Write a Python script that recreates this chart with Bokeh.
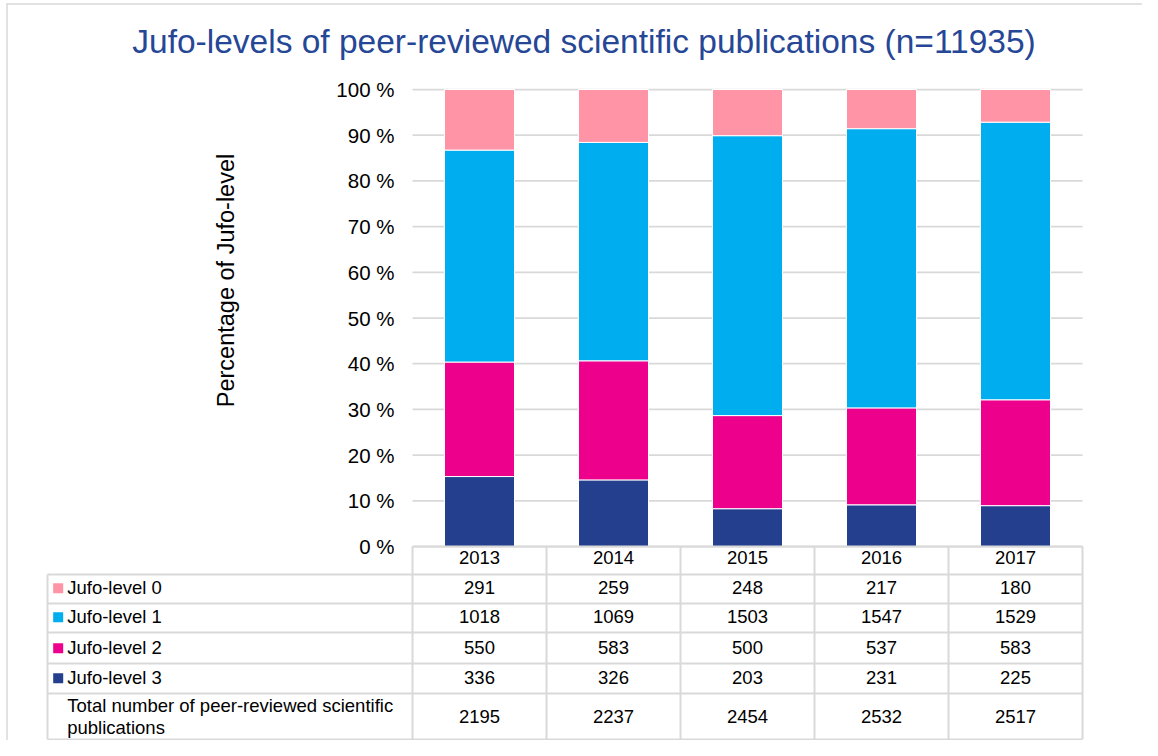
import math
from bokeh.plotting import figure
from bokeh.models import ColumnDataSource, Range1d, LinearAxis, FixedTicker, PrintfTickFormatter
from bokeh.core.properties import value
from bokeh.embed import file_html
from bokeh.resources import INLINE

# ---------------- data ----------------
years = ["2013", "2014", "2015", "2016", "2017"]
level0 = [291, 259, 248, 217, 180]
level1 = [1018, 1069, 1503, 1547, 1529]
level2 = [550, 583, 500, 537, 583]
level3 = [336, 326, 203, 231, 225]
totals = [2195, 2237, 2454, 2532, 2517]
row_labels = ["Jufo-level 0", "Jufo-level 1", "Jufo-level 2", "Jufo-level 3"]
total_label = ["Total number of peer-reviewed scientific", "publications"]
y_ticks = [0, 10, 20, 30, 40, 50, 60, 70, 80, 90, 100]
title_text = "Jufo-levels of peer-reviewed scientific publications (n=11935)"
y_label = "Percentage of Jufo-level"

# ---------------- styles ----------------
C0, C1, C2, C3 = "#FF94A7", "#00AEEF", "#EC008C", "#253F8F"
row_colors = [C0, C1, C2, C3]
TITLE_COLOR = "#264796"
GRID = "#D9D9D9"
TXT = "#000000"
FONT = "Liberation Sans"

# ---------------- layout (canvas px) ----------------
W, H = 1142, 740
PL, PR, PT, PB = 412, 1082, 89, 546
NCAT = len(years)
PX_CAT = (PR - PL) / NCAT
PX_PCT = (PB - PT) / 100.0
BASE_SHIFT = 0.33  # em offset between requested and drawn text baseline


def dx(px):
    return (px - PL) / PX_CAT


def dy(px):
    return (PB - px) / PX_PCT


def tb(px, fs):
    """data y for a text whose baseline should be drawn at canvas px."""
    return dy(px - BASE_SHIFT * fs)


p = figure(width=W, height=H, output_backend="svg", toolbar_location=None,
           x_range=Range1d(dx(0), dx(W)), y_range=Range1d(dy(H), dy(0)),
           x_axis_type=None, y_axis_type=None, min_border=0)
p.outline_line_color = None
p.xgrid.visible = False
p.ygrid.visible = False
p.background_fill_color = "white"
p.border_fill_color = "white"

# outer chart border (top / left)
p.segment(x0=[dx(6), dx(6.5)], y0=[dy(3.5), dy(3)],
          x1=[dx(W), dx(6.5)], y1=[dy(3.5), dy(H)],
          line_color=GRID, line_width=1.5)

# gridlines
p.segment(x0=[0] * len(y_ticks), x1=[NCAT] * len(y_ticks), y0=y_ticks, y1=y_ticks,
          line_color=GRID, line_width=1.75)

# stacked 100 % bars
xs = [i + 0.5 for i in range(NCAT)]
src = ColumnDataSource(dict(
    x=xs,
    l3=[a / t * 100 for a, t in zip(level3, totals)],
    l2=[a / t * 100 for a, t in zip(level2, totals)],
    l1=[a / t * 100 for a, t in zip(level1, totals)],
    l0=[a / t * 100 for a, t in zip(level0, totals)],
))
p.vbar_stack(["l3", "l2", "l1", "l0"], x="x", width=70 / PX_CAT, color=[C3, C2, C1, C0],
             line_color="white", line_width=1, source=src)

# y axis
yax = LinearAxis(fixed_location=0, ticker=FixedTicker(ticks=y_ticks),
                 formatter=PrintfTickFormatter(format="%d %%"))
yax.axis_line_color = None
yax.major_tick_line_color = None
yax.minor_tick_line_color = None
yax.major_tick_out = 0
yax.major_tick_in = 0
yax.major_label_standoff = 18
yax.major_label_text_font = FONT
yax.major_label_text_font_size = "20.5px"
yax.major_label_text_color = TXT
p.add_layout(yax, "left")

# title and axis label
p.text(x=[dx(583.5)], y=[tb(52, 33.5)], text=[title_text], text_align="center",
       text_baseline="alphabetic", text_font=value(FONT), text_font_size=value("33.5px"),
       text_color=TITLE_COLOR)
p.text(x=[dx(233 - BASE_SHIFT * 23.5)], y=[dy(280)], text=[y_label], angle=math.pi / 2,
       text_align="center", text_baseline="alphabetic", text_font=value(FONT),
       text_font_size=value("23.5px"), text_color=TXT)

# ---------------- data table ----------------
row_lines = [574, 603, 632, 663, 693, 739]
TL = 47
FS = 18.5
TFS = value("%.1fpx" % FS)
# horizontal lines
p.segment(x0=[dx(PL)], x1=[dx(PR)], y0=[dy(PB)], y1=[dy(PB)], line_color=GRID, line_width=2)
p.segment(x0=[dx(TL)] * len(row_lines), x1=[dx(PR)] * len(row_lines),
          y0=[dy(r) for r in row_lines], y1=[dy(r) for r in row_lines],
          line_color=GRID, line_width=2)
# vertical lines
p.segment(x0=list(range(NCAT + 1)), x1=list(range(NCAT + 1)),
          y0=[dy(PB)] * (NCAT + 1), y1=[dy(row_lines[-1])] * (NCAT + 1),
          line_color=GRID, line_width=2)
p.segment(x0=[dx(TL)], x1=[dx(TL)], y0=[dy(row_lines[0])], y1=[dy(row_lines[-1])],
          line_color=GRID, line_width=2)

# header (years)
p.text(x=xs, y=[tb(563.3, FS)] * NCAT, text=years, text_align="center",
       text_baseline="alphabetic", text_font=value(FONT), text_font_size=TFS, text_color=TXT)
row_base = [593.3, 622.3, 652.7, 682.7]
row_vals = [level0, level1, level2, level3]
for base, vals in zip(row_base, row_vals):
    p.text(x=xs, y=[tb(base, FS)] * NCAT, text=[str(v) for v in vals], text_align="center",
           text_baseline="alphabetic", text_font=value(FONT), text_font_size=TFS, text_color=TXT)
p.text(x=xs, y=[tb(722, FS)] * NCAT, text=[str(v) for v in totals], text_align="center",
       text_baseline="alphabetic", text_font=value(FONT), text_font_size=TFS, text_color=TXT)

# row labels with colour keys
sq_centers = [587.7, 616.7, 647.7, 677.7]
p.rect(x=[dx(57.7)] * 4, y=[dy(c) for c in sq_centers], width=10, height=10,
       width_units="screen", height_units="screen", fill_color=row_colors, line_color=None)
p.text(x=[dx(66.7)] * 4, y=[tb(b, FS) for b in row_base], text=row_labels, text_align="left",
       text_baseline="alphabetic", text_font=value(FONT), text_font_size=TFS, text_color=TXT)
p.text(x=[dx(66.7)] * 2, y=[tb(711, FS), tb(733.5, FS)], text=total_label, text_align="left",
       text_baseline="alphabetic", text_font=value(FONT), text_font_size=TFS, text_color=TXT)

open("out.html", "w").write(file_html(p, INLINE))
